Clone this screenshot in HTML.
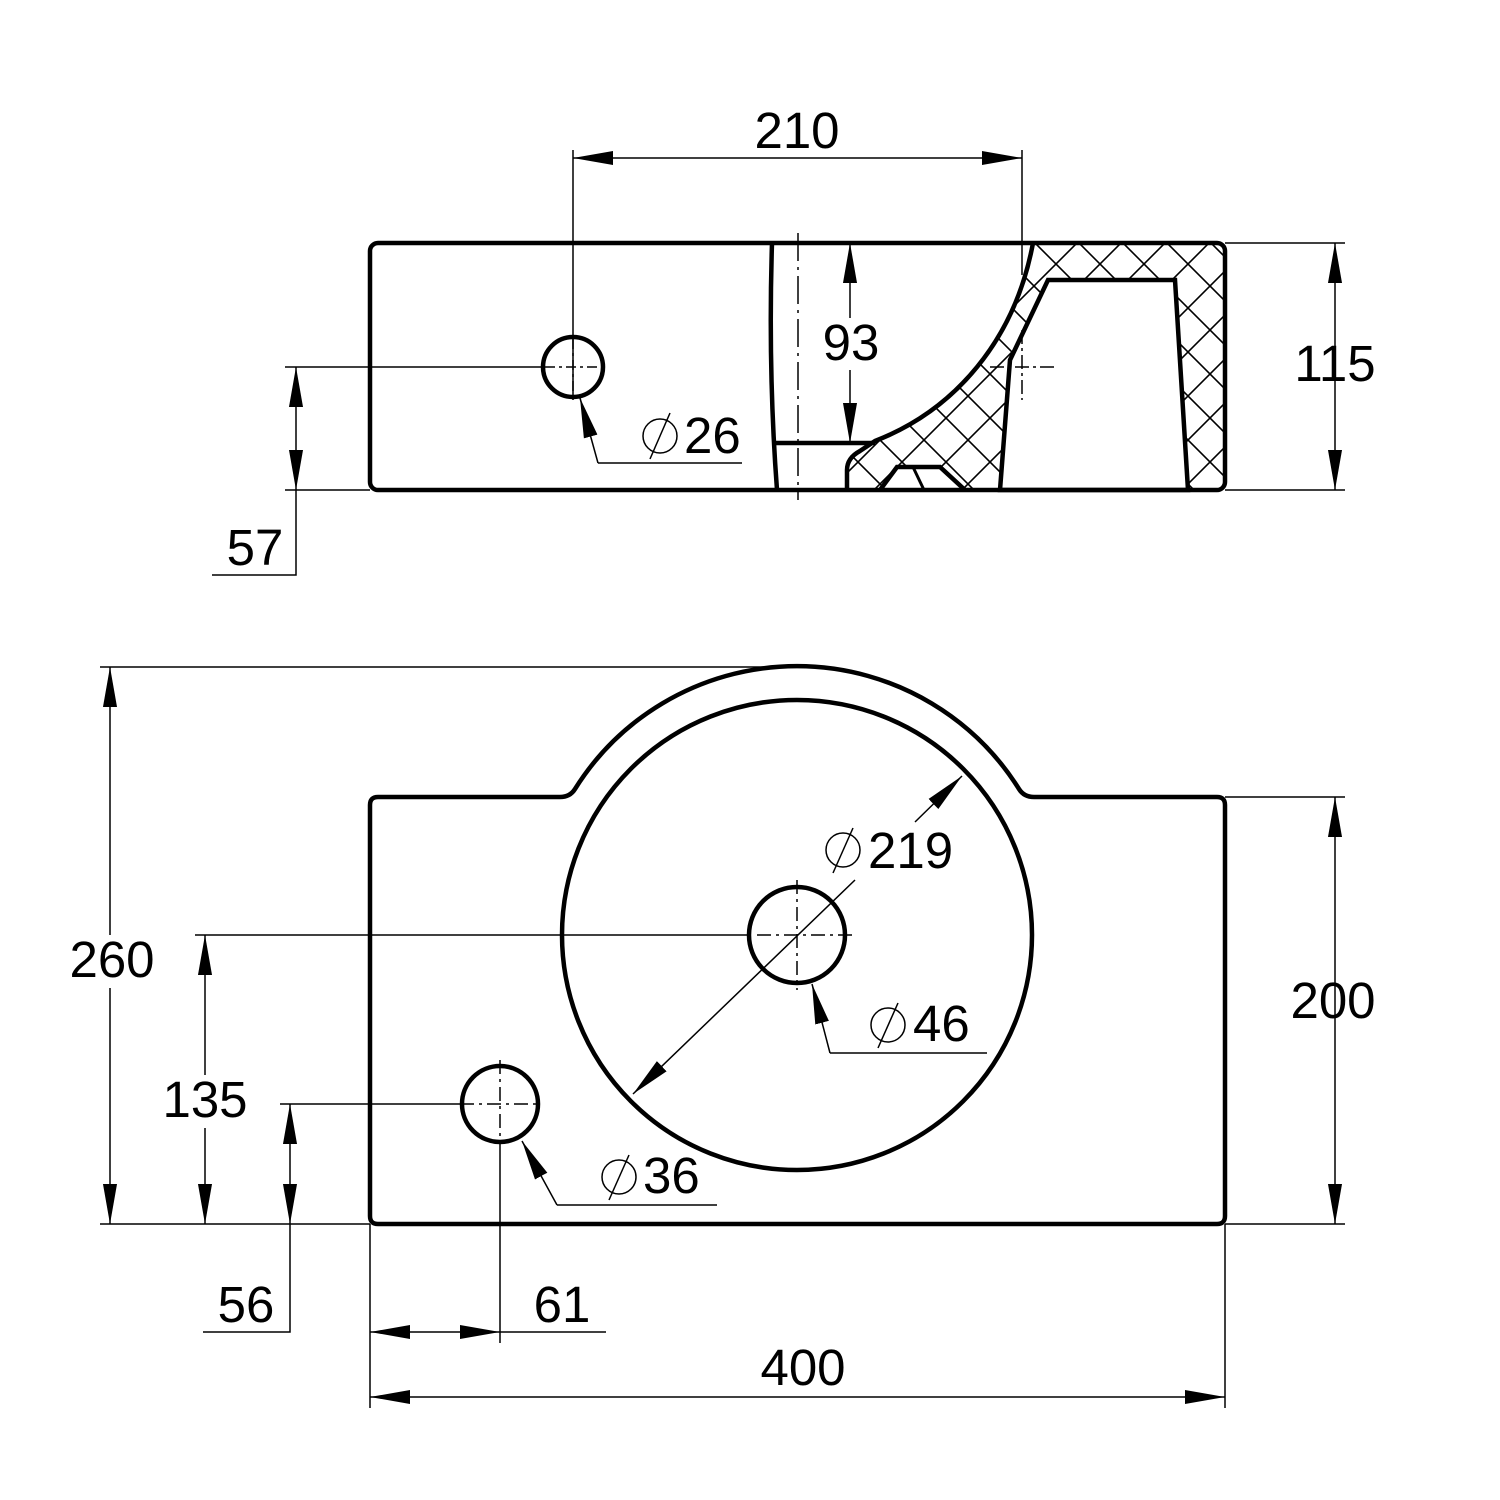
<!DOCTYPE html>
<html><head><meta charset="utf-8"><style>
html,body{margin:0;padding:0;background:#fff}
svg{display:block}
text{font-family:"Liberation Sans",Arial,sans-serif;font-size:51px;fill:#000}
</style></head><body>
<svg width="1500" height="1500" viewBox="0 0 1500 1500" xmlns="http://www.w3.org/2000/svg">
<defs>
<marker id="a" markerUnits="userSpaceOnUse" markerWidth="40" markerHeight="16" refX="37" refY="6.5" orient="auto-start-reverse" viewBox="0 0 37 13">
<path d="M0,0 L37,6.5 L0,13 Z" fill="#000"/></marker>
<pattern id="h" patternUnits="userSpaceOnUse" width="44" height="44">
<path d="M-2,2 L2,-2 M0,44 L44,0 M42,46 L46,42 M-2,42 L2,46 M0,0 L44,44 M42,-2 L46,2" stroke="#000" stroke-width="1.6"/></pattern>
</defs>
<g fill="none" stroke="#000">
<!-- TOP VIEW -->
<path d="M1033,243 L1218,243 Q1225,243 1225,250 L1225,483 Q1225,490 1218,490 L847,490 L847,470 Q847,458 860,451 L875,441 C955,410 1015,340 1033,243 Z" fill="url(#h)" stroke="none"/>
<path d="M1048,280 L1175,280 L1188,490 L1000,490 L1010,360 Z" fill="#fff" stroke-width="4.5"/>
<path d="M880,490 L897,467 L940,467 L965,490" fill="#fff" stroke-width="4.5"/>
<path d="M913,467 L924,490" stroke-width="3"/>
<path d="M1033,243 C1015,340 955,410 875,441 L860,451 Q847,458 847,470 L847,490" stroke-width="4.5"/>
<rect x="370" y="243" width="855" height="247" rx="8" stroke-width="4.5"/>
<path d="M772,243 Q768,370 777,490" stroke-width="4.5"/>
<path d="M774,443 L875,443" stroke-width="4.5"/>
<path d="M798,233 L798,500" stroke-width="1.5" stroke-dasharray="28,6,3,6"/>
<circle cx="573" cy="367" r="30" stroke-width="4.5"/>
<path d="M545,367 L601,367 M573,339 L573,395" stroke-width="1.5" stroke-dasharray="10,4,3,4"/>
<path d="M990,367 L1055,367 M1022,330 L1022,400" stroke-width="1.5" stroke-dasharray="14,4,3,4"/>
<!-- dims top -->
<path d="M573,150 L573,400" stroke-width="1.5"/>
<path d="M1022,150 L1022,275" stroke-width="1.5"/>
<path d="M573,158 L1022,158" stroke-width="1.5" marker-start="url(#a)" marker-end="url(#a)"/>
<path d="M1225,243 L1345,243 M1225,490 L1345,490" stroke-width="1.5"/>
<path d="M1335,243 L1335,490" stroke-width="1.5" marker-start="url(#a)" marker-end="url(#a)"/>
<path d="M850,243 L850,318" stroke-width="1.5" marker-start="url(#a)"/>
<path d="M850,370 L850,443" stroke-width="1.5" marker-end="url(#a)"/>
<path d="M598,463 L580,398" stroke-width="1.5" marker-end="url(#a)"/>
<path d="M598,463 L742,463" stroke-width="1.5"/>
<circle cx="660" cy="436" r="17" stroke-width="1.5"/><path d="M650,459 L670,413" stroke-width="1.5"/>
<path d="M285,367 L545,367 M285,490 L370,490" stroke-width="1.5"/>
<path d="M296,367 L296,490" stroke-width="1.5" marker-start="url(#a)" marker-end="url(#a)"/>
<path d="M296,490 L296,575 L212,575" stroke-width="1.5"/>
<!-- BOTTOM VIEW -->
<path d="M378,797 L560,797 Q570,797 575,789 A262,262 0 0 1 1019,789 Q1024,797 1034,797 L1217,797 Q1225,797 1225,805 L1225,1216 Q1225,1224 1217,1224 L378,1224 Q370,1224 370,1216 L370,805 Q370,797 378,797 Z" stroke-width="4.5"/>
<circle cx="797" cy="935" r="235" stroke-width="4.5"/>
<circle cx="797" cy="935" r="48" stroke-width="4.5"/>
<circle cx="500" cy="1104" r="38" stroke-width="4.5"/>
<path d="M757,935 L853,935 M797,880 L797,990" stroke-width="1.5" stroke-dasharray="14,5,3,5"/>
<path d="M460,1104 L540,1104 M500,1060 L500,1150" stroke-width="1.5" stroke-dasharray="14,5,3,5"/>
<path d="M195,935 L750,935" stroke-width="1.5"/>
<path d="M855,880 L633,1094" stroke-width="1.5" marker-end="url(#a)"/>
<path d="M915,822 L962,776" stroke-width="1.5" marker-end="url(#a)"/>
<circle cx="843" cy="850" r="17" stroke-width="1.5"/><path d="M833,873 L853,828" stroke-width="1.5"/>
<path d="M830,1053 L812,984" stroke-width="1.5" marker-end="url(#a)"/>
<path d="M830,1053 L987,1053" stroke-width="1.5"/>
<circle cx="888" cy="1025" r="17" stroke-width="1.5"/><path d="M878,1048 L898,1003" stroke-width="1.5"/>
<path d="M557,1205 L522,1141" stroke-width="1.5" marker-end="url(#a)"/>
<path d="M557,1205 L717,1205" stroke-width="1.5"/>
<circle cx="619" cy="1177" r="17" stroke-width="1.5"/><path d="M609,1200 L629,1155" stroke-width="1.5"/>
<path d="M100,667 L797,667 M100,1224 L370,1224" stroke-width="1.5"/>
<path d="M110,667 L110,935" stroke-width="1.5" marker-start="url(#a)"/>
<path d="M110,988 L110,1224" stroke-width="1.5" marker-end="url(#a)"/>
<path d="M205,935 L205,1075" stroke-width="1.5" marker-start="url(#a)"/>
<path d="M205,1128 L205,1224" stroke-width="1.5" marker-end="url(#a)"/>
<path d="M280,1104 L460,1104" stroke-width="1.5"/>
<path d="M290,1104 L290,1224" stroke-width="1.5" marker-start="url(#a)" marker-end="url(#a)"/>
<path d="M290,1224 L290,1332 L203,1332" stroke-width="1.5"/>
<path d="M1225,797 L1345,797 M1225,1224 L1345,1224" stroke-width="1.5"/>
<path d="M1335,797 L1335,1224" stroke-width="1.5" marker-start="url(#a)" marker-end="url(#a)"/>
<path d="M370,1224 L370,1408 M500,1150 L500,1343 M1225,1224 L1225,1408" stroke-width="1.5"/>
<path d="M370,1332 L500,1332" stroke-width="1.5" marker-start="url(#a)" marker-end="url(#a)"/>
<path d="M500,1332 L606,1332" stroke-width="1.5"/>
<path d="M370,1397 L1225,1397" stroke-width="1.5" marker-start="url(#a)" marker-end="url(#a)"/>
</g>
<text x="797" y="148" text-anchor="middle">210</text>
<text x="851" y="360" text-anchor="middle">93</text>
<text x="1335" y="381" text-anchor="middle">115</text>
<text x="684" y="453">26</text>
<text x="255" y="565" text-anchor="middle">57</text>
<text x="868" y="868">219</text>
<text x="913" y="1041">46</text>
<text x="643" y="1193">36</text>
<text x="112" y="977" text-anchor="middle">260</text>
<text x="205" y="1117" text-anchor="middle">135</text>
<text x="1333" y="1018" text-anchor="middle">200</text>
<text x="246" y="1322" text-anchor="middle">56</text>
<text x="562" y="1322" text-anchor="middle">61</text>
<text x="803" y="1385" text-anchor="middle">400</text>
</svg>
</body></html>
